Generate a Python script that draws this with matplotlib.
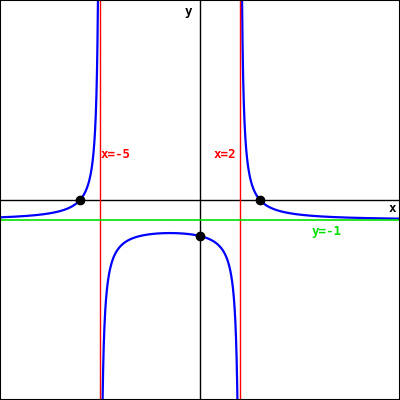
import matplotlib

matplotlib.use("Agg")
import matplotlib.pyplot as plt
import numpy as np

# rational function: zeros, poles, horizontal asymptote
zeros = [-6, 3]
poles = [-5, 2]
h_asym = -1
marked_x = [-6, 3, 0]
marked_y = [0, 0, -1.8]


def f(x):
    num = np.prod([x - z for z in zeros], axis=0)
    den = np.prod([x - p for p in poles], axis=0)
    return h_asym * num / den


fig = plt.figure(figsize=(4, 4), dpi=100)
ax = fig.add_axes([0, 0, 1, 1])
ax.set_xlim(-10, 10)
ax.set_ylim(-10, 10)
ax.set_xticks([])
ax.set_yticks([])
for s in ax.spines.values():
    s.set_linewidth(1.5)
    s.set_color("black")

ax.axhline(0, color="black", lw=1)
ax.axvline(0, color="black", lw=1)

eps = 1e-3
segments = [(-10, poles[0] - eps), (poles[0] + eps, poles[1] - eps), (poles[1] + eps, 10)]
for a, b in segments:
    xs = np.linspace(a, b, 2000)
    ax.plot(xs, f(xs), color="#0000ff", lw=1.6)

for p in poles:
    ax.axvline(p, color="#ff0000", lw=1)
ax.axhline(h_asym, color="#00e000", lw=1.2)

ax.plot(marked_x, marked_y, "o", color="black", ms=6)

font = dict(family="DejaVu Sans Mono", fontweight="bold", fontsize=9)
ax.text(-4.95, 2.25, "x=-5", color="#ff0000", va="center", ha="left", **font)
ax.text(1.8, 2.25, "x=2", color="#ff0000", va="center", ha="right", **font)
ax.text(5.6, -1.6, "y=-1", color="#00e000", va="center", ha="left", **font)
ax.text(9.45, -0.4, "x", color="black", va="center", ha="left", **font)
ax.text(-0.4, 9.45, "y", color="black", va="center", ha="right", **font)

fig.savefig("out.png", dpi=100)
